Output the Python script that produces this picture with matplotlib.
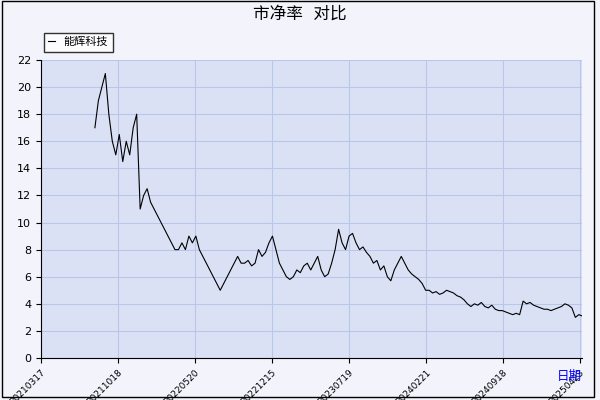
import matplotlib
matplotlib.use("Agg")
import matplotlib.pyplot as plt
import numpy as np

plt.rcParams["font.family"] = ["DejaVu Sans", "Noto Sans CJK SC"]

tick_labels = ["20210317", "20211018", "20220520", "20221215", "20230719", "20240221", "20240918", "20250423"]
yticks = list(range(0, 23, 2))
series_name = "能辉科技"
pb_values = [17, 19, 20, 21, 18, 16, 15, 16.5, 14.5, 16, 15, 17, 18, 11, 12, 12.5, 11.5, 11, 10.5, 10,
             9.5, 9, 8.5, 8, 8, 8.5, 8, 9, 8.5, 9, 8, 7.5, 7, 6.5, 6, 5.5, 5, 5.5, 6, 6.5, 7, 7.5, 7, 7,
             7.2, 6.8, 7, 8, 7.5, 7.8, 8.5, 9, 8, 7, 6.5, 6, 5.8, 6, 6.5, 6.3, 6.8, 7, 6.5, 7, 7.5, 6.5,
             6, 6.2, 7, 8, 9.5, 8.5, 8, 9, 9.2, 8.5, 8, 8.2, 7.8, 7.5, 7, 7.2, 6.5, 6.8, 6, 5.7, 6.5, 7,
             7.5, 7, 6.5, 6.2, 6, 5.8, 5.5, 5, 5, 4.8, 4.9, 4.7, 4.8, 5, 4.9, 4.8, 4.6, 4.5, 4.3, 4.0,
             3.8, 4.0, 3.9, 4.1, 3.8, 3.7, 3.9, 3.6, 3.5, 3.5, 3.4, 3.3, 3.2, 3.3, 3.2, 4.2, 4.0, 4.1,
             3.9, 3.8, 3.7, 3.6, 3.6, 3.5, 3.6, 3.7, 3.8, 4.0, 3.9, 3.7, 3.0, 3.2, 3.1]
x_start, x_end = 0.70, 7.03

fig = plt.figure(figsize=(6, 4), dpi=100, facecolor="#f2f3fb")
ax = fig.add_axes([41/600, 1-358/400, 541/600, 298/400])
ax.set_facecolor("#dbe1f5")
xs = np.linspace(x_start, x_end, len(pb_values))
ax.plot(xs, pb_values, color="black", lw=0.8, label=series_name)
ax.set_xlim(0, 541/77)
ax.set_ylim(0, 22)
ax.set_yticks(yticks)
ax.set_xticks(range(len(tick_labels)))
ax.set_xticklabels(tick_labels, rotation=45, ha="right", va="top", rotation_mode="anchor", fontsize=6.5)
ax.tick_params(axis="y", labelsize=8)
ax.grid(True, color="#b8c6ea", lw=0.8)
for s in ["top", "right"]:
    ax.spines[s].set_visible(False)
ax.legend(loc="upper left", bbox_to_anchor=(-0.005, 1.11), fontsize=8, frameon=True,
          fancybox=False, edgecolor="black", handlelength=0.6)
fig.text(0.5, 0.965, "市净率  对比", ha="center", va="center", fontsize=12)
fig.text(0.97, 0.05, "日期", color="blue", ha="right", fontsize=9)
fig.patches.append(plt.Rectangle((0.003, 0.008), 0.987, 0.99, transform=fig.transFigure,
                                 fill=False, edgecolor="black", lw=1))
fig.savefig("out.png", dpi=100, facecolor=fig.get_facecolor())
